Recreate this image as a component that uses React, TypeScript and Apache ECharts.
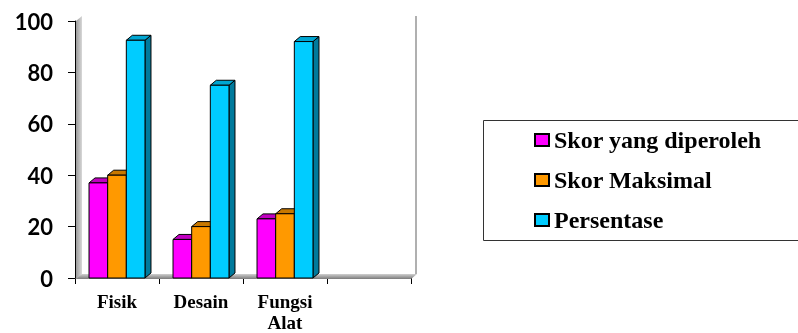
import React, { useEffect, useRef } from "react";
import * as echarts from "echarts";

const categories = ["Fisik", "Desain", "Fungsi\nAlat", ""];
const seriesNames = ["Skor yang diperoleh", "Skor Maksimal", "Persentase"];
const skorDiperoleh = [37, 15, 23];
const skorMaksimal = [40, 20, 25];
const persentase = [92.5, 75, 92];
const yTicks = [0, 20, 40, 60, 80, 100];

const frontColors = ["#FF00FF", "#FF9900", "#00CCFF"];
const topColors = ["#C000C0", "#C87800", "#00A6D2"];
const sideColors = ["#990099", "#A05F00", "#007A9C"];

const SERIF = "Liberation Serif";
const SANS = "Lato";

const fontPromise: Promise<any> =
  typeof document !== "undefined" && (document as any).fonts
    ? Promise.all([
        (document as any).fonts.load('bold 24px "Liberation Serif"', "Skor"),
        (document as any).fonts.load('bold 19px "Liberation Serif"', "Fisik"),
        (document as any).fonts.load("bold 22px Lato", "100"),
      ]).catch(() => null)
    : Promise.resolve(null);

const G = { left: 75, top: 21, width: 336, height: 258 };
const DX = 6;
const DY = 5;

function makeRender(idx: number) {
  return (params: any, api: any) => {
    const cat = api.value(0);
    const val = api.value(1);
    const base = api.coord([cat, 0]);
    const top = api.coord([cat, val]);
    const band = api.size([1, 0])[0];
    const bw = band * 0.222;
    const x0 = base[0] - 1.5 * bw + idx * bw;
    const x1 = x0 + bw;
    const yT = top[1];
    const yB = base[1];
    const stroke = { stroke: "#000", lineWidth: 1 };
    return {
      type: "group",
      children: [
        {
          type: "polygon",
          shape: { points: [[x1, yT], [x1 + DX, yT - DY], [x1 + DX, yB - DY], [x1, yB]] },
          style: { fill: sideColors[idx], ...stroke },
        },
        {
          type: "polygon",
          shape: { points: [[x0, yT], [x0 + DX, yT - DY], [x1 + DX, yT - DY], [x1, yT]] },
          style: { fill: topColors[idx], ...stroke },
        },
        {
          type: "rect",
          shape: { x: x0, y: yT, width: bw, height: yB - yT },
          style: { fill: frontColors[idx], ...stroke },
        },
      ],
    };
  };
}

function buildOption() {
  const allData = [skorDiperoleh, skorMaksimal, persentase];
  const gx1 = G.left + G.width;
  const gy1 = G.top + G.height;
  return {
    animation: false,
    grid: { left: G.left, top: G.top, width: G.width, height: G.height },
    xAxis: {
      type: "category",
      data: categories,
      axisLine: { show: true, lineStyle: { color: "#666", width: 1 } },
      axisTick: { show: true, length: 6, alignWithLabel: false, lineStyle: { color: "#000" } },
      axisLabel: {
        margin: 13,
        fontFamily: SERIF,
        fontWeight: "bold",
        fontSize: 19,
        lineHeight: 21,
        color: "#000",
        interval: 0,
      },
      splitLine: { show: false },
    },
    yAxis: {
      type: "value",
      min: yTicks[0],
      max: yTicks[yTicks.length - 1],
      interval: 20,
      axisLine: { show: true, lineStyle: { color: "#000", width: 1 } },
      axisTick: { show: true, length: 7, lineStyle: { color: "#000" } },
      axisLabel: {
        margin: 22,
        fontFamily: SANS,
        fontWeight: "bold",
        fontSize: 22,
        color: "#000",
      },
      splitLine: { show: false },
    },
    legend: {
      orient: "vertical",
      left: 529,
      top: 123,
      icon: "rect",
      itemWidth: 14,
      itemHeight: 12,
      itemGap: 16,
      itemStyle: { borderColor: "#000", borderWidth: 2 },
      textStyle: {
        fontFamily: SERIF,
        fontWeight: "bold",
        fontSize: 24,
        color: "#000",
      },
      data: seriesNames,
    },
    graphic: [
      {
        type: "polygon",
        z: 1,
        shape: { points: [[G.left, gy1], [gx1, gy1], [gx1 + DX, gy1 - DY], [G.left + DX, gy1 - DY]] },
        style: {
          fill: new echarts.graphic.LinearGradient(0, 0, 0, 1, [
            { offset: 0, color: "#d0d0d0" },
            { offset: 1, color: "#7a7a7a" },
          ]),
        },
      },
      {
        type: "polygon",
        z: 1,
        shape: { points: [[G.left + 1, G.top], [G.left + DX + 1, G.top - DY], [G.left + DX + 1, gy1 - DY], [G.left + 1, gy1]] },
        style: {
          fill: new echarts.graphic.LinearGradient(0, 0, 1, 0, [
            { offset: 0, color: "#9a9a9a" },
            { offset: 1, color: "#d8d8d8" },
          ]),
        },
      },
      {
        type: "line",
        z: 1,
        shape: { x1: gx1 + DX - 1, y1: G.top - DY, x2: gx1 + DX - 1, y2: gy1 - DY },
        style: { stroke: "#b0b0b0", lineWidth: 2 },
      },
      {
        type: "rect",
        z: 1,
        shape: { x: 483.5, y: 120.5, width: 330, height: 120 },
        style: { fill: "none", stroke: "#333", lineWidth: 1 },
      },
    ],
    series: allData.map((arr, i) => ({
      name: seriesNames[i],
      type: "custom",
      z: 3,
      itemStyle: { color: frontColors[i], borderColor: "#000", borderWidth: 2 },
      encode: { x: 0, y: 1 },
      data: arr.map((v, j) => [j, v]),
      renderItem: makeRender(i),
    })),
  };
}

export default function App() {
  const ref = useRef<HTMLDivElement>(null);
  useEffect(() => {
    if (!ref.current) return;
    const chart = echarts.init(ref.current, null, { renderer: "svg" });
    chart.setOption(buildOption());
    let alive = true;
    fontPromise.then(() => {
      if (!alive) return;
      chart.clear();
      chart.setOption(buildOption(), true);
    });
    return () => {
      alive = false;
      chart.dispose();
    };
  }, []);
  return <div ref={ref} style={{ position: "fixed", left: 0, top: 0, width: 798, height: 333 }} />;
}
